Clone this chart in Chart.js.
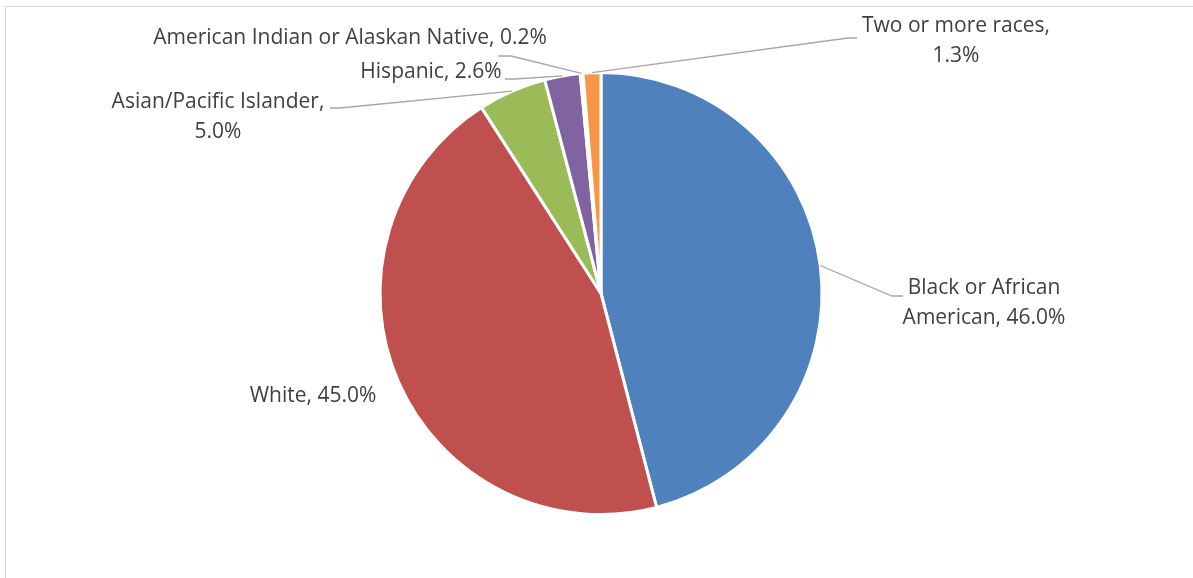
<!DOCTYPE html>
<html>
<head>
<meta charset="utf-8">
<script src="https://cdn.jsdelivr.net/npm/chart.js@4.4.1/dist/chart.umd.min.js"></script>
<style>
  html, body { margin: 0; padding: 0; background: #fff; }
  #wrap { position: relative; width: 1193px; height: 578px; overflow: hidden; }
  #frame { position: absolute; left: 5px; top: 6px; width: 1300px; height: 700px; border: 1.5px solid #d9d9d9; box-sizing: border-box; }
  canvas { position: absolute; left: 0; top: 0; }
</style>
</head>
<body>
<div id="wrap">
  <div id="frame"></div>
  <canvas id="c" width="1193" height="578"></canvas>
</div>
<script>
const categories = ["Black or African American", "White", "Asian/Pacific Islander", "Hispanic", "American Indian or Alaskan Native", "Two or more races"];
const values = [46.0, 45.0, 5.0, 2.6, 0.2, 1.3];
const labelLines = [
  ["Black or African", "American, 46.0%"],
  ["White, 45.0%"],
  ["Asian/Pacific Islander,", "5.0%"],
  ["Hispanic, 2.6%"],
  ["American Indian or Alaskan Native, 0.2%"],
  ["Two or more races,", "1.3%"]
];
const colors = ["#4F81BD", "#C0504D", "#9BBB59", "#8064A2", "#4BACC6", "#F79646"];

// label layout (positions only): text center x, first line y, leader elbow and end (null = no leader)
const labelLayout = [
  { x: 984, y: 288, elbow: [892, 296], end: [903, 296] },
  { x: 313, y: 396, elbow: null, end: null },
  { x: 218, y: 102, elbow: [340, 108], end: [330, 108] },
  { x: 431, y: 72, elbow: [515, 79], end: [505, 79] },
  { x: 350, y: 38, elbow: [511, 56], end: [498, 56] },
  { x: 956, y: 26, elbow: [848, 38], end: [857, 38] }
];
const FONT = '21px "Open Sans", Lato, sans-serif';
const LINE_H = 30;

const labelPlugin = {
  id: 'excelLabels',
  afterDatasetsDraw(chart) {
    const ctx = chart.ctx;
    const meta = chart.getDatasetMeta(0);
    ctx.save();
    meta.data.forEach((arc, i) => {
      const L = labelLayout[i];
      if (L.elbow) {
        const mid = (arc.startAngle + arc.endAngle) / 2;
        const sx = arc.x + Math.cos(mid) * arc.outerRadius;
        const sy = arc.y + Math.sin(mid) * arc.outerRadius;
        ctx.beginPath();
        ctx.strokeStyle = '#a6a6a6';
        ctx.lineWidth = 1.3;
        ctx.moveTo(sx, sy);
        ctx.lineTo(L.elbow[0], L.elbow[1]);
        ctx.lineTo(L.end[0], L.end[1]);
        ctx.stroke();
      }
      ctx.fillStyle = '#404040';
      ctx.font = FONT;
      ctx.textAlign = 'center';
      ctx.textBaseline = 'middle';
      labelLines[i].forEach((t, k) => ctx.fillText(t, L.x, L.y + k * LINE_H));
    });
    ctx.restore();
  }
};

new Chart(document.getElementById('c'), {
  type: 'pie',
  data: {
    labels: categories,
    datasets: [{
      data: values,
      backgroundColor: colors,
      borderColor: '#ffffff',
      borderWidth: 3
    }]
  },
  options: {
    responsive: false,
    animation: false,
    layout: { padding: { left: 9, right: 0, top: 71, bottom: 62 } },
    plugins: { legend: { display: false }, tooltip: { enabled: false } }
  },
  plugins: [labelPlugin]
});
</script>
</body>
</html>
